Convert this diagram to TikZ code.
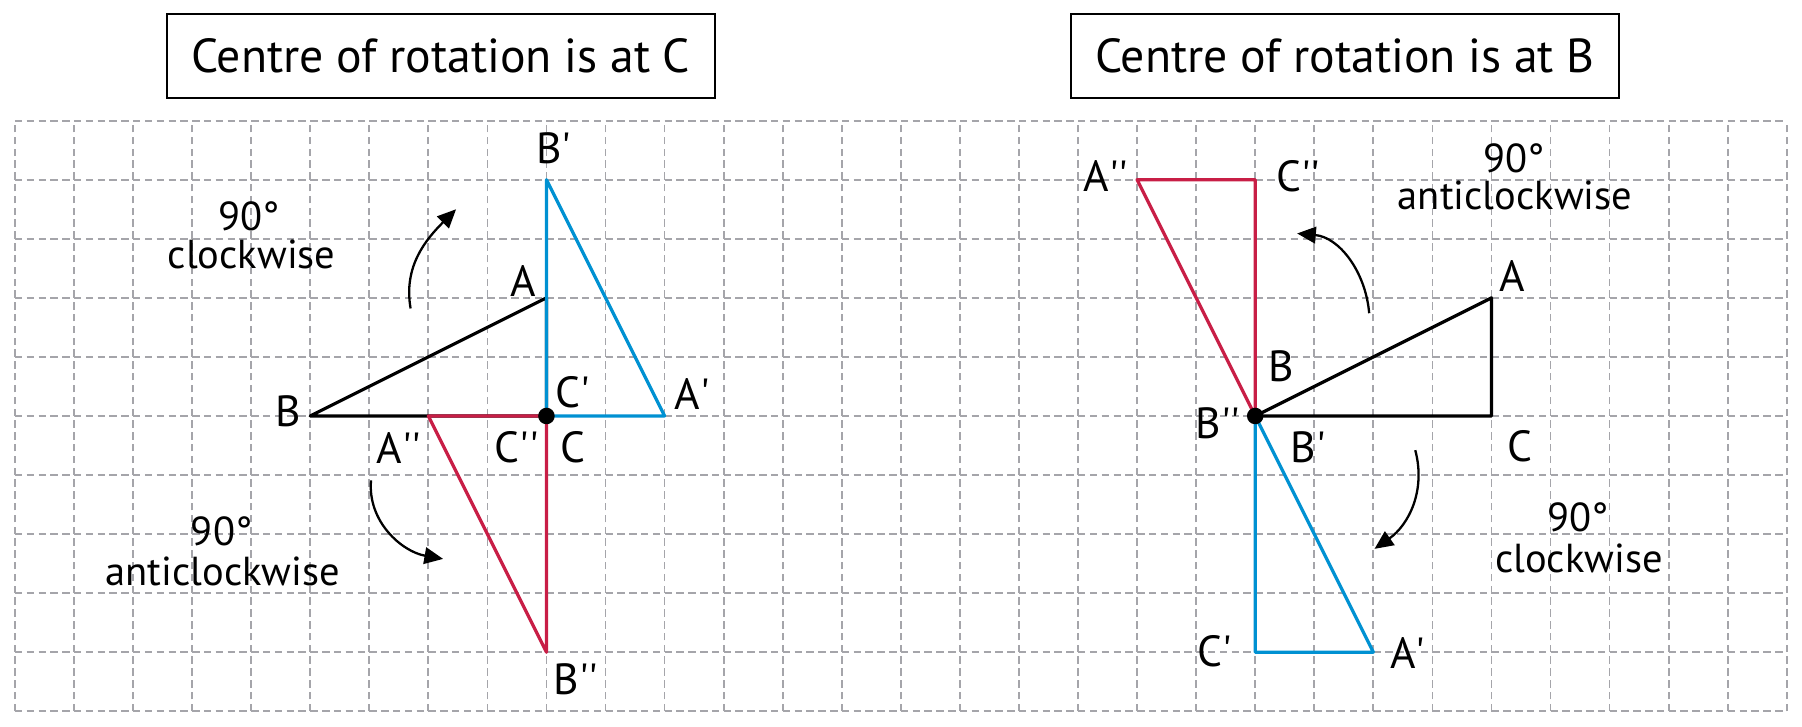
\documentclass[tikz,border=0pt]{standalone}
\usepackage{fontspec}
\setmainfont{PT Sans}
\usetikzlibrary{arrows.meta}
\definecolor{rotred}{RGB}{200,30,70}
\definecolor{rotblue}{RGB}{0,145,210}
\definecolor{gridgray}{RGB}{165,165,170}
\newcommand{\pmk}{\textquotesingle}

\begin{document}
\begin{tikzpicture}[
  gridline/.style={gridgray, line width=0.85pt, dash pattern=on 3.6pt off 2.1pt},
  tri/.style={line width=1.55pt, line join=round},
  ptlabel/.style={inner sep=0pt, font=\fontsize{21}{24}\selectfont},
  turnlabel/.style={inner sep=0pt, font=\fontsize{19.5}{22}\selectfont},
  turnarrow/.style={line width=1.1pt, -{Triangle[length=9pt,width=8pt]}},
  titlebox/.style={draw, line width=0.9pt, minimum width=9.28cm, minimum height=1.42cm, font=\fontsize{23}{27}\selectfont}
]

% Page size
\useasboundingbox (-0.252,-0.264) rectangle (30.258,12.043);

% Grid
\foreach \x in {0,...,30} {
  \foreach \y in {0,...,9} {
    \draw[gridline] (\x,\y) -- (\x,\y+1);
  }
}
\foreach \y in {0,...,10} {
  \foreach \x in {0,...,29} {
    \draw[gridline] (\x,\y) -- (\x+1,\y);
  }
}

% Titles
\node[titlebox] (ltitle) at (7.21,11.10) {Centre of rotation is at C};
\node[titlebox] (rtitle) at (22.52,11.10) {Centre of rotation is at B};

% Left: centre at C
\coordinate (lA) at (9,7);
\coordinate (lB) at (5,5);
\coordinate (lC) at (9,5);
\coordinate (lA1) at (11,5);
\coordinate (lB1) at (9,9);
\coordinate (lA2) at (7,5);
\coordinate (lB2) at (9,1);

\draw[tri] (lA) -- (lB) -- (lC) -- cycle;
\draw[tri, rotblue] (lC) -- (lB1) -- (lA1) -- cycle;
\draw[tri, rotred] (lC) -- (lA2) -- (lB2) -- cycle;
\fill (lC) circle (0.14);

\node[ptlabel] (lAlab) at (8.61,7.28) {A};
\node[ptlabel] (lBlab) at (4.63,5.08) {B};
\node[ptlabel] (lClab) at (9.45,4.47) {C};
\node[ptlabel] (lA1lab) at (11.47,5.38) {A\pmk};
\node[ptlabel] (lB1lab) at (9.12,9.54) {B\pmk};
\node[ptlabel] (lC1lab) at (9.45,5.40) {C\pmk};
\node[ptlabel] (lA2lab) at (6.50,4.45) {A\pmk\pmk};
\node[ptlabel] (lB2lab) at (9.50,0.55) {B\pmk\pmk};
\node[ptlabel] (lC2lab) at (8.50,4.47) {C\pmk\pmk};

% Left: turn arrows
\coordinate (lcwS) at (6.70,6.82);
\coordinate (lcwE) at (7.47,8.50);
\draw[turnarrow] (lcwS) to[out=100, in=225] (lcwE);
\node[turnlabel] (lcwdeg) at (3.97,8.38) {90°};
\node[turnlabel] (lcwtxt) at (4.01,7.73) {clockwise};

\coordinate (lacwS) at (6.03,3.91);
\coordinate (lacwE) at (7.25,2.58);
\draw[turnarrow] (lacwS) to[out=265, in=170] (lacwE);
\node[turnlabel] (lacwdeg) at (3.50,3.05) {90°};
\node[turnlabel] (lacwtxt) at (3.52,2.37) {anticlockwise};

% Right: centre at B
\coordinate (rA) at (25,7);
\coordinate (rB) at (21,5);
\coordinate (rC) at (25,5);
\coordinate (rA1) at (23,1);
\coordinate (rC1) at (21,1);
\coordinate (rA2) at (19,9);
\coordinate (rC2) at (21,9);

\draw[tri] (rA) -- (rB) -- (rC) -- cycle;
\draw[tri, rotred] (rB) -- (rA2) -- (rC2) -- cycle;
\draw[tri, rotblue] (rB) -- (rC1) -- (rA1) -- cycle;
\fill (rB) circle (0.14);

\node[ptlabel] (rAlab) at (25.35,7.37) {A};
\node[ptlabel] (rBlab) at (21.44,5.84) {B};
\node[ptlabel] (rClab) at (25.49,4.49) {C};
\node[ptlabel] (rA1lab) at (23.58,0.99) {A\pmk};
\node[ptlabel] (rB1lab) at (21.90,4.47) {B\pmk};
\node[ptlabel] (rC1lab) at (20.32,1.01) {C\pmk};
\node[ptlabel] (rA2lab) at (18.47,9.06) {A\pmk\pmk};
\node[ptlabel] (rB2lab) at (20.37,4.87) {B\pmk\pmk};
\node[ptlabel] (rC2lab) at (21.73,9.06) {C\pmk\pmk};

% Right: turn arrows
\coordinate (racwS) at (22.93,6.74);
\coordinate (racwE) at (21.71,8.09);
\draw[turnarrow] (racwS) to[out=95, in=-5] (racwE);
\node[turnlabel] (racwdeg) at (25.38,9.37) {90°};
\node[turnlabel] (racwtxt) at (25.40,8.73) {anticlockwise};

\coordinate (rcwS) at (23.71,4.42);
\coordinate (rcwE) at (23.02,2.75);
\draw[turnarrow] (rcwS) to[out=285, in=35] (rcwE);
\node[turnlabel] (rcwdeg) at (26.47,3.28) {90°};
\node[turnlabel] (rcwtxt) at (26.48,2.59) {clockwise};

\end{tikzpicture}
\end{document}
